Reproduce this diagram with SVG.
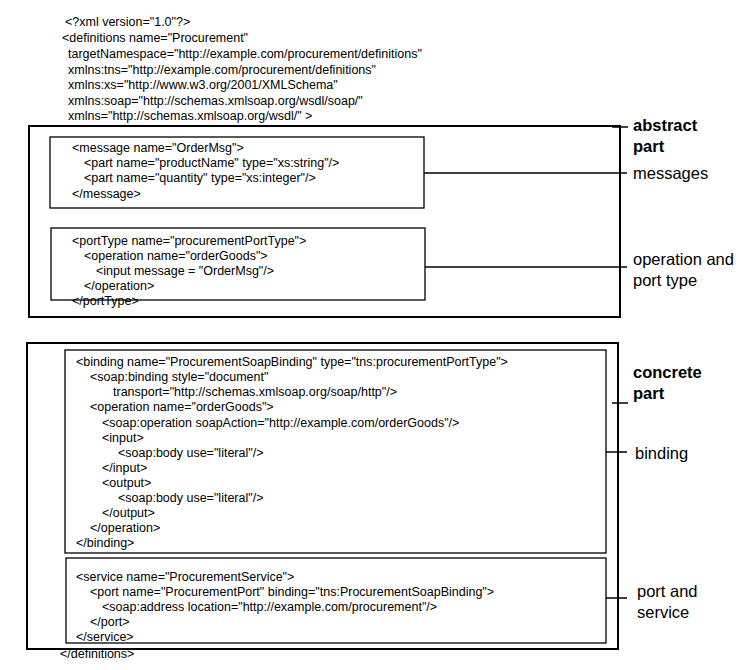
<svg xmlns="http://www.w3.org/2000/svg" width="753" height="670" viewBox="0 0 753 670">
<style>
text{font-family:"Liberation Sans",Arial,sans-serif;fill:#000}
.c{font-size:12.5px}
.l{font-size:16.5px}
.b{font-weight:bold}
.box{fill:none;stroke:#000;stroke-width:1.3}
.big{fill:none;stroke:#000;stroke-width:2}
.ln{stroke:#000;stroke-width:1.5}
</style>
<rect width="753" height="670" fill="#fff"/>
<g id="header" class="c">
<text x="65" y="26" class="c">&lt;?xml version="1.0"?&gt;</text>
<text x="62" y="42" class="c">&lt;definitions name="Procurement"</text>
<text x="68" y="58" class="c">targetNamespace="http://example.com/procurement/definitions"</text>
<text x="68" y="74" class="c">xmlns:tns="http://example.com/procurement/definitions"</text>
<text x="68" y="89" class="c">xmlns:xs="http://www.w3.org/2001/XMLSchema"</text>
<text x="68" y="105" class="c">xmlns:soap="http://schemas.xmlsoap.org/wsdl/soap/"</text>
<text x="68" y="120" class="c">xmlns="http://schemas.xmlsoap.org/wsdl/" &gt;</text>
</g>
<g id="abstract">
<rect class="big" x="29" y="126" width="591" height="191"/>
<text x="633" y="131" class="l b">abstract</text>
<text x="633" y="152" class="l b">part</text>
</g>
<g id="message">
<rect class="box" x="50" y="137" width="374" height="71"/>
<text x="72" y="152" class="c">&lt;message name="OrderMsg"&gt;</text>
<text x="84" y="167" class="c">&lt;part name="productName" type="xs:string"/&gt;</text>
<text x="84" y="182" class="c">&lt;part name="quantity" type="xs:integer"/&gt;</text>
<text x="72" y="198" class="c">&lt;/message&gt;</text>
<text x="633" y="179" class="l">messages</text>
</g>
<g id="portType">
<rect class="box" x="51" y="228" width="374" height="72"/>
<text x="72" y="245" class="c">&lt;portType name="procurementPortType"&gt;</text>
<text x="84" y="260" class="c">&lt;operation  name="orderGoods"&gt;</text>
<text x="96" y="275" class="c">&lt;input message = "OrderMsg"/&gt;</text>
<text x="84" y="290" class="c">&lt;/operation&gt;</text>
<text x="72" y="305" class="c">&lt;/portType&gt;</text>
<text x="633" y="265" class="l">operation and</text>
<text x="633" y="286" class="l">port type</text>
</g>
<g id="concrete">
<rect class="big" x="27" y="343" width="591" height="306"/>
<text x="633" y="378" class="l b">concrete</text>
<text x="633" y="399" class="l b">part</text>
</g>
<g id="binding">
<rect class="box" x="65" y="350" width="541" height="203"/>
<text x="76" y="366" class="c">&lt;binding name="ProcurementSoapBinding" type="tns:procurementPortType"&gt;</text>
<text x="90" y="381" class="c">&lt;soap:binding style="document"</text>
<text x="113" y="396" class="c">transport="http://schemas.xmlsoap.org/soap/http"/&gt;</text>
<text x="90" y="411" class="c">&lt;operation name="orderGoods"&gt;</text>
<text x="102" y="427" class="c">&lt;soap:operation soapAction="http://example.com/orderGoods"/&gt;</text>
<text x="102" y="442" class="c">&lt;input&gt;</text>
<text x="118" y="457" class="c">&lt;soap:body use="literal"/&gt;</text>
<text x="102" y="472" class="c">&lt;/input&gt;</text>
<text x="102" y="487" class="c">&lt;output&gt;</text>
<text x="118" y="502" class="c">&lt;soap:body use="literal"/&gt;</text>
<text x="102" y="517" class="c">&lt;/output&gt;</text>
<text x="90" y="532" class="c">&lt;/operation&gt;</text>
<text x="76" y="547" class="c">&lt;/binding&gt;</text>
<text x="635" y="459" class="l">binding</text>
</g>
<g id="service">
<rect class="box" x="66" y="558" width="540" height="85"/>
<text x="76" y="581" class="c">&lt;service name="ProcurementService"&gt;</text>
<text x="90" y="596" class="c">&lt;port name="ProcurementPort" binding="tns:ProcurementSoapBinding"&gt;</text>
<text x="102" y="611" class="c">&lt;soap:address location="http://example.com/procurement"/&gt;</text>
<text x="90" y="626" class="c">&lt;/port&gt;</text>
<text x="76" y="641" class="c">&lt;/service&gt;</text>
<text x="637" y="597" class="l">port and</text>
<text x="637" y="618" class="l">service</text>
</g>
<text x="60" y="658" class="c">&lt;/definitions&gt;</text>
<g id="connectors">
<line class="ln" x1="612" y1="127" x2="628" y2="127"/>
<line class="ln" x1="424" y1="173" x2="627" y2="173"/>
<line class="ln" x1="425" y1="267" x2="627" y2="267"/>
<line class="ln" x1="612" y1="403" x2="628" y2="403"/>
<line class="ln" x1="606" y1="452" x2="627" y2="452"/>
<line class="ln" x1="606" y1="598" x2="627" y2="598"/>
</g>
</svg>
